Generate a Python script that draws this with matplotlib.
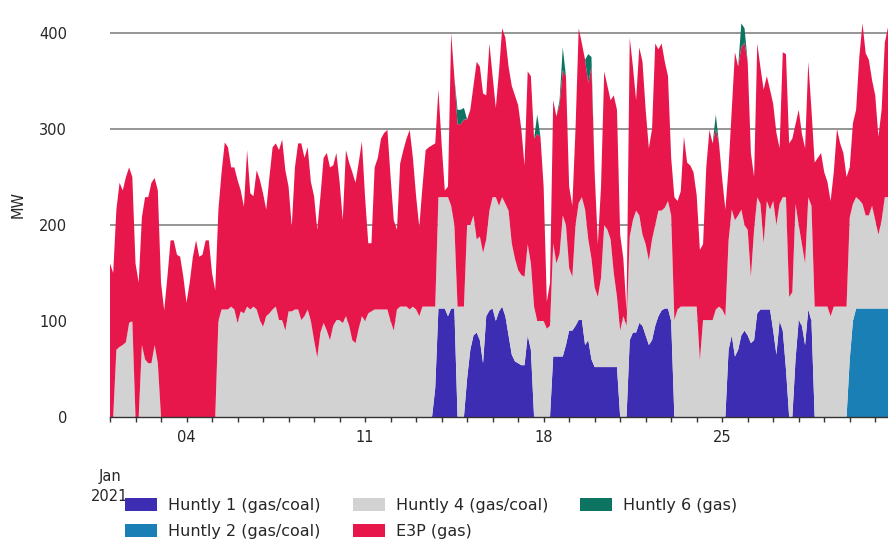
import matplotlib
matplotlib.use("Agg")
import matplotlib.pyplot as plt
import matplotlib.dates as mdates
import pandas as pd
import numpy as np

# 3-hourly samples from 2021-01-01 00:00 (one line per day)
start = "2021-01-01 00:00"
step = "3h"

huntly1 = [
    0, 0, 0, 0, 0, 0, 0, 0,
    0, 0, 0, 0, 0, 0, 0, 0,
    0, 0, 0, 0, 0, 0, 0, 0,
    0, 0, 0, 0, 0, 0, 0, 0,
    0, 0, 0, 0, 0, 0, 0, 0,
    0, 0, 0, 0, 0, 0, 0, 0,
    0, 0, 0, 0, 0, 0, 0, 0,
    0, 0, 0, 0, 0, 0, 0, 0,
    0, 0, 0, 0, 0, 0, 0, 0,
    0, 0, 0, 0, 0, 0, 0, 0,
    0, 0, 0, 0, 0, 0, 0, 0,
    0, 0, 0, 0, 0, 0, 0, 0,
    0, 0, 0, 0, 0, 0, 30, 113,
    113, 113, 105, 113, 113, 0, 0, 0,
    40, 70, 85, 88, 80, 56, 105, 111,
    113, 100, 110, 115, 105, 85, 65, 58,
    56, 54, 54, 85, 70, 0, 0, 0,
    0, 0, 0, 63, 63, 63, 63, 75,
    90, 90, 95, 101, 101, 75, 80, 60,
    52, 52, 52, 52, 52, 52, 52, 52,
    0, 0, 0, 80, 88, 88, 98, 95,
    85, 75, 80, 95, 105, 111, 113, 113,
    100, 0, 0, 0, 0, 0, 0, 0,
    0, 0, 0, 0, 0, 0, 0, 0,
    0, 0, 70, 85, 63, 70, 85, 90,
    85, 77, 80, 108, 112, 112, 112, 112,
    90, 65, 100, 90, 50, 0, 0, 60,
    101, 95, 75, 112, 100, 0, 0, 0,
    0, 0, 0, 0, 0, 0, 0, 0,
    0, 0, 0, 0, 0, 0, 0, 0,
    0, 0, 0, 0, 0,
]

huntly2 = [
    0, 0, 0, 0, 0, 0, 0, 0,
    0, 0, 0, 0, 0, 0, 0, 0,
    0, 0, 0, 0, 0, 0, 0, 0,
    0, 0, 0, 0, 0, 0, 0, 0,
    0, 0, 0, 0, 0, 0, 0, 0,
    0, 0, 0, 0, 0, 0, 0, 0,
    0, 0, 0, 0, 0, 0, 0, 0,
    0, 0, 0, 0, 0, 0, 0, 0,
    0, 0, 0, 0, 0, 0, 0, 0,
    0, 0, 0, 0, 0, 0, 0, 0,
    0, 0, 0, 0, 0, 0, 0, 0,
    0, 0, 0, 0, 0, 0, 0, 0,
    0, 0, 0, 0, 0, 0, 0, 0,
    0, 0, 0, 0, 0, 0, 0, 0,
    0, 0, 0, 0, 0, 0, 0, 0,
    0, 0, 0, 0, 0, 0, 0, 0,
    0, 0, 0, 0, 0, 0, 0, 0,
    0, 0, 0, 0, 0, 0, 0, 0,
    0, 0, 0, 0, 0, 0, 0, 0,
    0, 0, 0, 0, 0, 0, 0, 0,
    0, 0, 0, 0, 0, 0, 0, 0,
    0, 0, 0, 0, 0, 0, 0, 0,
    0, 0, 0, 0, 0, 0, 0, 0,
    0, 0, 0, 0, 0, 0, 0, 0,
    0, 0, 0, 0, 0, 0, 0, 0,
    0, 0, 0, 0, 0, 0, 0, 0,
    0, 0, 0, 0, 0, 0, 0, 0,
    0, 0, 0, 0, 0, 0, 0, 0,
    0, 0, 0, 0, 0, 0, 0, 0,
    60, 100, 113, 113, 113, 113, 113, 113,
    113, 113, 113, 113, 113,
]

huntly4 = [
    0, 0, 70, 73, 75, 78, 98, 100,
    0, 0, 75, 60, 56, 56, 75, 56,
    0, 0, 0, 0, 0, 0, 0, 0,
    0, 0, 0, 0, 0, 0, 0, 0,
    0, 0, 100, 112, 112, 112, 115, 112,
    98, 110, 108, 115, 112, 115, 112, 101,
    94, 105, 108, 112, 115, 101, 101, 90,
    110, 110, 112, 112, 101, 105, 112, 100,
    80, 62, 88, 98, 90, 80, 95, 101,
    101, 98, 105, 95, 80, 77, 92, 105,
    100, 108, 110, 112, 112, 112, 112, 112,
    100, 90, 112, 115, 115, 115, 112, 115,
    112, 105, 115, 115, 115, 115, 85, 116,
    116, 116, 124, 107, 87, 115, 115, 115,
    160, 130, 125, 97, 108, 115, 80, 104,
    116, 129, 110, 114, 117, 130, 116, 107,
    97, 94, 92, 95, 90, 115, 100, 100,
    100, 92, 95, 118, 97, 107, 147, 125,
    65, 56, 105, 122, 128, 141, 105, 105,
    83, 73, 93, 148, 143, 133, 98, 73,
    90, 105, 95, 108, 117, 127, 112, 95,
    95, 88, 105, 105, 110, 104, 105, 112,
    110, 101, 112, 115, 115, 115, 115, 115,
    115, 59, 101, 101, 101, 101, 112, 115,
    112, 105, 114, 131, 142, 140, 131, 110,
    110, 69, 115, 121, 110, 69, 113, 104,
    135, 135, 122, 139, 179, 125, 130, 162,
    99, 85, 85, 117, 120, 115, 115, 115,
    115, 115, 105, 115, 115, 115, 115, 115,
    148, 122, 116, 113, 109, 97, 97, 107,
    92, 77, 92, 116, 116,
]

e3p = [
    160, 150, 146, 171, 161, 172, 162, 150,
    160, 140, 133, 169, 173, 188, 174, 180,
    140, 111, 146, 184, 184, 169, 167, 146,
    119, 140, 167, 184, 167, 169, 184, 184,
    150, 132, 116, 143, 174, 169, 145, 148,
    149, 126, 111, 163, 121, 115, 145, 146,
    139, 111, 142, 169, 170, 177, 188, 167,
    130, 88, 148, 173, 184, 165, 169, 145,
    150, 133, 142, 172, 185, 180, 167, 174,
    144, 107, 173, 170, 175, 167, 173, 182,
    129, 73, 71, 148, 158, 178, 184, 187,
    150, 115, 83, 149, 163, 175, 187, 155,
    118, 93, 125, 163, 166, 168, 170, 112,
    56, 7, 11, 180, 154, 190, 190, 195,
    110, 120, 135, 185, 177, 166, 150, 174,
    126, 93, 140, 176, 173, 150, 164, 170,
    172, 152, 116, 180, 195, 175, 195, 192,
    140, 28, 45, 149, 153, 155, 151, 155,
    85, 74, 100, 182, 160, 156, 163, 200,
    120, 55, 95, 160, 150, 145, 185, 195,
    100, 60, 15, 207, 160, 115, 175, 180,
    140, 117, 115, 189, 168, 174, 152, 130,
    60, 128, 113, 120, 177, 150, 147, 140,
    116, 115, 79, 159, 198, 184, 188, 170,
    136, 111, 76, 104, 175, 155, 169, 190,
    175, 129, 55, 160, 142, 160, 130, 125,
    101, 96, 58, 151, 149, 160, 160, 83,
    120, 115, 120, 141, 100, 150, 155, 160,
    140, 130, 120, 140, 185, 170, 160, 135,
    52, 84, 91, 149, 188, 169, 162, 131,
    130, 102, 115, 161, 177,
]

huntly6 = [
    0, 0, 0, 0, 0, 0, 0, 0,
    0, 0, 0, 0, 0, 0, 0, 0,
    0, 0, 0, 0, 0, 0, 0, 0,
    0, 0, 0, 0, 0, 0, 0, 0,
    0, 0, 0, 0, 0, 0, 0, 0,
    0, 0, 0, 0, 0, 0, 0, 0,
    0, 0, 0, 0, 0, 0, 0, 0,
    0, 0, 0, 0, 0, 0, 0, 0,
    0, 0, 0, 0, 0, 0, 0, 0,
    0, 0, 0, 0, 0, 0, 0, 0,
    0, 0, 0, 0, 0, 0, 0, 0,
    0, 0, 0, 0, 0, 0, 0, 0,
    0, 0, 0, 0, 0, 0, 0, 0,
    0, 0, 0, 0, 0, 15, 15, 12,
    0, 0, 0, 0, 0, 0, 0, 0,
    0, 0, 0, 0, 0, 0, 0, 0,
    0, 0, 0, 0, 0, 0, 20, 0,
    0, 0, 0, 0, 0, 5, 24, 0,
    0, 0, 0, 0, 0, 0, 30, 10,
    0, 0, 0, 0, 0, 0, 0, 0,
    0, 0, 0, 0, 0, 0, 0, 0,
    0, 0, 0, 0, 0, 0, 0, 0,
    0, 0, 0, 0, 0, 0, 0, 0,
    0, 0, 0, 0, 0, 0, 15, 0,
    0, 0, 0, 0, 0, 0, 25, 15,
    0, 0, 0, 0, 0, 0, 0, 0,
    0, 0, 0, 0, 0, 0, 0, 0,
    0, 0, 0, 0, 0, 0, 0, 0,
    0, 0, 0, 0, 0, 0, 0, 0,
    0, 0, 0, 0, 0, 0, 0, 0,
    0, 0, 0, 0, 0,
]

series_labels = ["Huntly 1 (gas/coal)", "Huntly 2 (gas/coal)", "Huntly 4 (gas/coal)",
                 "E3P (gas)", "Huntly 6 (gas)"]
series_colors = ["#3d2db3", "#1a7fb5", "#d2d2d2", "#e8174b", "#0e7462"]
y_ticks = [0, 100, 200, 300, 400]
x_major_days = [4, 11, 18, 25]
x_major_labels = ["04", "11", "18", "25"]
y_label = "MW"
month_label = "Jan\n2021"

times = pd.date_range(start, periods=len(e3p), freq=step)

W, H = 888, 543
fig = plt.figure(figsize=(W / 100, H / 100), dpi=100)
ax = fig.add_axes([110 / W, 1 - 417 / H, 778 / W, 412.8 / H])

ax.stackplot(times, huntly1, huntly2, huntly4, e3p, huntly6,
             colors=series_colors, labels=series_labels, linewidth=0)

ax.set_xlim(times[0], times[-1])
ax.set_ylim(0, 430)
ax.set_yticks(y_ticks)
ax.yaxis.grid(True, color="#8c8c8c", linewidth=1.3)
ax.set_axisbelow(True)

for s in ["left", "right", "top"]:
    ax.spines[s].set_visible(False)
ax.spines["bottom"].set_color("#333333")
ax.spines["bottom"].set_linewidth(1.0)

ax.tick_params(axis="y", length=0, pad=31, labelsize=10.5, labelcolor="#262626")

ax.xaxis.set_major_locator(mdates.DayLocator(bymonthday=x_major_days))
ax.xaxis.set_major_formatter(plt.FixedFormatter(x_major_labels))
ax.xaxis.set_minor_locator(mdates.DayLocator())
ax.tick_params(axis="x", which="both", length=3.5, width=1, color="#333333",
               labelsize=10.5, labelcolor="#262626", pad=6)

ax.text(mdates.date2num(times[0]), -0.125, month_label, transform=ax.get_xaxis_transform(),
        ha="center", va="top", fontsize=10.5, color="#262626", linespacing=1.45)

fig.text(18 / W, 1 - 205 / H, y_label, rotation=90, ha="center", va="center",
         fontsize=10.5, color="#262626")

leg = fig.legend(loc="upper left", bbox_to_anchor=(125 / W, 1 - 498 / H), ncol=3,
                 frameon=False, fontsize=11.5, handlelength=2.0, handleheight=0.9,
                 handletextpad=0.7, columnspacing=2.0, labelspacing=0.65,
                 borderpad=0, borderaxespad=0)
for t in leg.get_texts():
    t.set_color("#262626")

fig.savefig("out.png", dpi=100)
